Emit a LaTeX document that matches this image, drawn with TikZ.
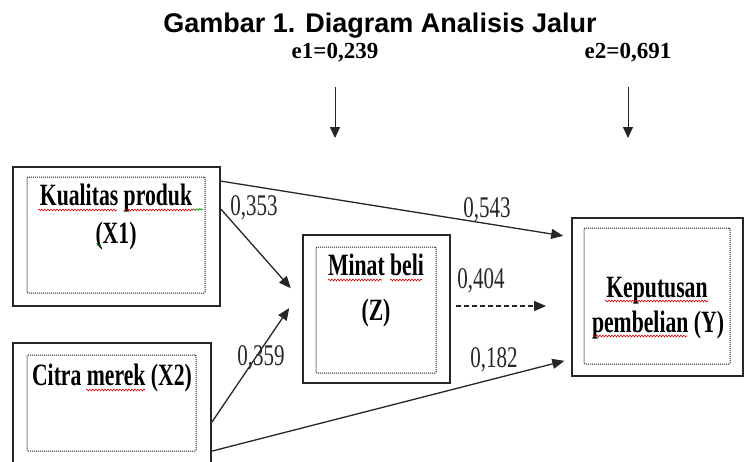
\documentclass[tikz,border=0pt]{standalone}
\usepackage{fontspec}
\setmainfont{Liberation Serif}
\newfontfamily\narrowserif{Liberation Serif}[FakeStretch=0.7]
\newfontfamily\titlesans{Liberation Sans}
\usetikzlibrary{calc}
\usetikzlibrary{arrows.meta}
\usetikzlibrary{decorations.pathmorphing}

\tikzset{
  outerbox/.style={draw=black!85, line width=1.8pt, inner sep=0pt},
  innerbox/.style={draw=black!90, dash pattern=on 1pt off 1pt, line width=1pt, rounded corners=1pt, inner sep=0pt},
  boxtext/.style={font=\narrowserif\bfseries\fontsize{31}{31}\selectfont, inner sep=0pt, anchor=base},
  coef/.style={font=\narrowserif\fontsize{30}{30}\selectfont, text=black!85, inner sep=0pt, anchor=base},
  errlabel/.style={font=\bfseries\fontsize{23}{23}\selectfont, inner sep=0pt, anchor=base},
  titletext/.style={font=\titlesans\bfseries\fontsize{27}{27}\selectfont, inner sep=0pt, anchor=base},
  link/.style={draw=black!85, line width=1.3pt, -{Triangle[length=12pt,width=10pt]}},
  errlink/.style={draw=black!85, line width=0.9pt, -{Triangle[length=11pt,width=10pt]}},
  spell/.style={red!85!black, line width=0.6pt, decorate, decoration={snake, amplitude=0.9pt, segment length=3pt}}
}

\begin{document}
\begin{tikzpicture}[x=1pt, y=-1pt]
  \useasboundingbox (0,0) rectangle (744,461);
  \clip (0,0) rectangle (744,461);

  \node [titletext] (title) at (380,32) {Gambar 1. Diagram Analisis Jalur};

  \node [errlabel] (e1) at (335,58) {e1=0,239};
  \node [errlabel] (e2) at (628,58) {e2=0,691};
  \coordinate (e1end) at (335,138);
  \coordinate (e2end) at (628,138);
  \draw [errlink, shorten <=25pt] (e1.south) -- (e1end);
  \draw [errlink, shorten <=25pt] (e2.south) -- (e2end);

  \node [outerbox, minimum width=207pt, minimum height=139pt] (x1) at (116.5,236.5) {};
  \node [innerbox, minimum width=178pt, minimum height=116pt] (x1in) at (116,235) {};
  \node [boxtext] (x1name) at (116,205) {Kualitas produk};
  \node [boxtext] (x1code) at (116,243) {(X1)};

  \node [outerbox, minimum width=198pt, minimum height=140pt] (x2) at (112,413) {};
  \node [innerbox, minimum width=169pt, minimum height=96pt] (x2in) at (111.5,403) {};
  \node [boxtext] (x2name) at (112,385) {Citra merek (X2)};

  \node [outerbox, minimum width=147pt, minimum height=148pt] (z) at (376.5,309) {};
  \node [innerbox, minimum width=120pt, minimum height=126pt] (zin) at (376,310) {};
  \node [boxtext] (zname) at (376,275) {Minat beli};
  \node [boxtext] (zcode) at (376,320) {(Z)};

  \node [outerbox, minimum width=171pt, minimum height=158pt] (y) at (657.5,297) {};
  \node [innerbox, minimum width=146pt, minimum height=136pt] (yin) at (657,296) {};
  \node [boxtext] (yname) at (657,297) {Keputusan};
  \node [boxtext] (ycode) at (658,332) {pembelian (Y)};

  \draw [spell] (38,210) -- (117,210);
  \draw [spell] (125,210) -- (193,210);
  \draw [spell, green!55!black] (193,210) -- (203,209);
  \draw [spell, green!55!black] (96,244) -- (101,246);
  \draw [spell] (86,390) -- (145,390);
  \draw [spell] (328,280) -- (382,280);
  \draw [spell] (390,280) -- (422,280);
  \draw [spell] (605,301) -- (708,301);
  \draw [spell] (593,336) -- (687,336);

  \draw [link, shorten >=8pt] ([yshift=-15pt]x1.north east) -- ([yshift=-20pt]y.north west);
  \draw [link, shorten >=17pt] ([yshift=-43pt]x1.north east) -- ([yshift=8pt]z.west);
  \draw [link, shorten >=23pt] ([yshift=-80pt]x2.north east) -- ([yshift=20pt]z.west);
  \draw [link, shorten >=7pt] ([yshift=-109pt]x2.north east) -- ([yshift=-142pt]y.north west);
  \draw [link, dash pattern=on 5pt off 3pt, shorten <=5pt, shorten >=25pt] ([yshift=3pt]z.east) -- ([yshift=-9pt]y.west);

  \node [coef] (c1) at (254,215) {0,353};
  \node [coef] (c2) at (487,217) {0,543};
  \node [coef] (c3) at (481,288) {0,404};
  \node [coef] (c4) at (261,365) {0,359};
  \node [coef] (c5) at (494,367) {0,182};
\end{tikzpicture}
\end{document}
